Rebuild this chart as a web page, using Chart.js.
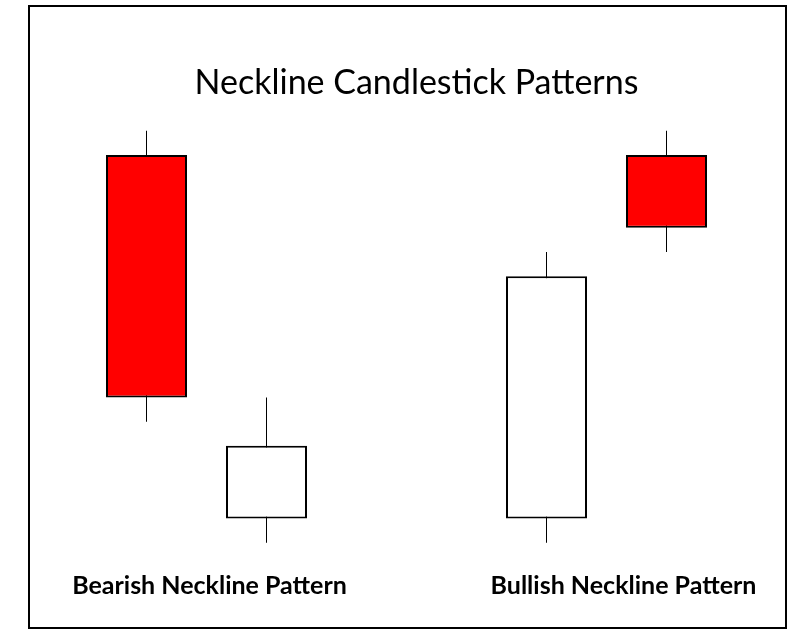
<!DOCTYPE html>
<html>
<head>
<meta charset="utf-8">
<title>Neckline Candlestick Patterns</title>
<script src="https://cdn.jsdelivr.net/npm/chart.js@4/dist/chart.umd.min.js"></script>
<style>
  body { margin: 0; background: #fff; }
  canvas { display: block; }
</style>
</head>
<body>
<canvas id="neckline-chart" width="808" height="638"></canvas>
<script>
// candle data (price units), slot = position along the time axis
const candleSlots = [0, 3, 10, 13];
const openVals  = [16, 1, 1, 16];
const closeVals = [6, 4, 11, 13];
const highVals  = [17, 6, 12, 17];
const lowVals   = [5, 0, 0, 12];

const patternNames = ['Bearish Neckline Pattern', 'Bullish Neckline Pattern'];
const patternTicks = [1.575, 11.925];

const bodies = candleSlots.map((x, i) => ({ x: x, y: [openVals[i], closeVals[i]] }));
const wicks = candleSlots.map((x, i) => ({ x: x, y: [lowVals[i], highVals[i]] }));
const bodyColors = candleSlots.map((x, i) => closeVals[i] < openVals[i] ? '#ff0000' : '#ffffff');

// outer frame round the whole picture
const framePlugin = {
    id: 'frame',
    beforeDraw(chart) {
        const ctx = chart.ctx;
        ctx.save();
        ctx.fillStyle = '#fff';
        ctx.fillRect(0, 0, chart.width, chart.height);
        ctx.strokeStyle = '#000';
        ctx.lineWidth = 2;
        ctx.strokeRect(29, 6, 757, 622);
        ctx.restore();
    }
};

new Chart(document.getElementById('neckline-chart'), {
    type: 'bar',
    data: {
        datasets: [{
            label: 'Body',
            data: bodies,
            backgroundColor: bodyColors,
            borderColor: '#000',
            borderWidth: 2,
            borderSkipped: false,
            inflateAmount: 0,
            barThickness: 81,
            grouped: false,
            order: 0
        }, {
            label: 'Wick',
            data: wicks,
            backgroundColor: '#000',
            borderWidth: 0,
            inflateAmount: 0,
            barThickness: 1,
            grouped: false,
            order: 1
        }]
    },
    options: {
        responsive: false,
        animation: false,
        layout: { padding: { top: 0, left: 46.5, right: 21.5, bottom: 25.2 } },
        plugins: {
            legend: { display: false },
            tooltip: { enabled: false },
            title: {
                display: true,
                text: 'Neckline Candlestick Patterns',
                color: '#000',
                font: { family: 'Lato', size: 34, weight: 'normal', lineHeight: 1.2 },
                padding: { top: 63, bottom: 6.2 }
            }
        },
        scales: {
            x: {
                type: 'linear',
                min: -2.5,
                max: 16,
                offset: false,
                grid: { display: false, drawTicks: false },
                border: { display: false },
                afterBuildTicks: (scale) => {
                    scale.ticks = patternTicks.map(v => ({ value: v }));
                },
                ticks: {
                    autoSkip: false,
                    maxRotation: 0,
                    padding: 12,
                    color: '#000',
                    font: { family: 'Lato', size: 25, weight: 'bold', lineHeight: 1.2 },
                    callback: (value, index) => patternNames[index]
                }
            },
            y: {
                display: false,
                min: -0.66,
                max: 17.86
            }
        }
    },
    plugins: [framePlugin]
});
</script>
</body>
</html>
